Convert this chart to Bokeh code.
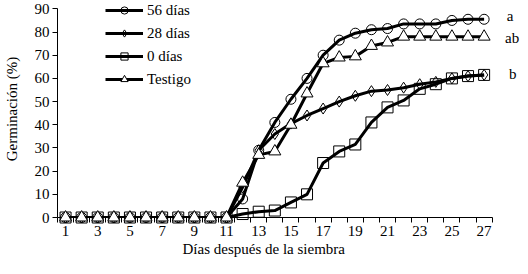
from bokeh.plotting import figure
from bokeh.models import Range1d, FixedTicker, Legend, LegendItem, Title
from bokeh.core.properties import value
from bokeh.embed import file_html
from bokeh.resources import INLINE

days = list(range(1, 28))
d56 = [0]*11 + [8, 29, 41, 51, 60, 70, 76.5, 79.5, 81, 81.5, 83.5, 83.5, 83.5, 85, 85.5, 85.5]
d28 = [0]*11 + [13, 29, 36, 40.5, 44, 47, 50, 52.5, 54.5, 55, 56, 57.5, 58.5, 60, 61, 61.5]
d0 = [0]*11 + [1.5, 2.5, 3, 6.5, 10, 23.5, 28.5, 31.5, 41, 47.5, 50.5, 55.5, 57.5, 60, 61, 61.5]
testigo = [0]*11 + [15, 27, 28.5, 40, 53.5, 66.5, 69, 69.5, 74, 75.5, 78, 78, 78, 78, 78, 78]
names = ["56 días", "28 días", "0 días", "Testigo"]
sig_labels = ["a", "ab", "b"]
sig_x = [28.4, 28.3, 28.55]
sig_y = [86.8, 77.5, 61.8]
y_ticks = list(range(0, 91, 10))
x_labels = list(range(1, 28, 2))

FONT = "Liberation Serif"
FS = "15px"

p = figure(width=520, height=266, output_backend="svg", toolbar_location=None,
           x_range=Range1d(0.5, 29.26), y_range=Range1d(0, 93.6),
           min_border_left=57, min_border_right=0, min_border_top=0, min_border_bottom=49)
p.outline_line_color = None
p.xgrid.visible = False
p.ygrid.visible = False

xa = p.xaxis[0]
xa.bounds = (0.5, 27.5)
xa.ticker = FixedTicker(ticks=x_labels, minor_ticks=[d - 0.5 for d in days] + [27.5])
xa.major_tick_line_color = None
xa.major_tick_out = 5
xa.major_tick_in = 0
xa.minor_tick_out = 5
xa.minor_tick_in = 0
xa.minor_tick_line_color = "black"
xa.axis_line_color = "black"
xa.major_label_standoff = 3

ya = p.yaxis[0]
ya.bounds = (0, 90)
ya.ticker = FixedTicker(ticks=y_ticks)
ya.major_tick_out = 5
ya.major_tick_in = 0
ya.minor_tick_line_color = None
ya.major_label_standoff = 3
ya.axis_label = "Germinación (%)"
ya.axis_label_standoff = 12

for ax in (xa, ya):
    ax.major_label_text_font = FONT
    ax.major_label_text_font_size = FS
    ax.major_label_text_color = "black"
    ax.axis_label_text_font = FONT
    ax.axis_label_text_font_size = FS
    ax.axis_label_text_font_style = "normal"
    ax.axis_label_text_color = "black"

xtitle = Title(text="Días después de la siembra", align="left", offset=125, standoff=0,
               text_font=FONT, text_font_size=FS, text_font_style="normal", text_color="black")
p.add_layout(xtitle, "below")

series = [d56, d28, d0, testigo]
markers = ["circle", "diamond", "square", "triangle"]
sizes = [10, 11, 11, 12]
fills = [None, None, None, "white"]
items = []
for name, ys, mk, sz, fc in zip(names, series, markers, sizes, fills):
    lr = p.line(days, ys, line_color="black", line_width=3)
    mr = p.scatter(days, ys, marker=mk, size=sz, line_color="black", line_width=1,
                   fill_color=fc if fc else "white", fill_alpha=1.0 if fc else 0.0,
                   level="overlay")
    items.append(LegendItem(label=name, renderers=[lr, mr]))

legend = Legend(items=items, location=(48, 129), orientation="vertical",
                glyph_width=38, glyph_height=18, label_height=18, spacing=5,
                label_standoff=4, padding=0, margin=0,
                border_line_color=None, background_fill_alpha=0.0,
                label_text_font=FONT, label_text_font_size=FS, label_text_color="black")
p.add_layout(legend, "center")

p.text(x=sig_x, y=sig_y, text=sig_labels, text_align="left", text_baseline="middle",
       text_font=value(FONT), text_font_size=FS, text_color="black")

open("out.html", "w").write(file_html(p, INLINE))
